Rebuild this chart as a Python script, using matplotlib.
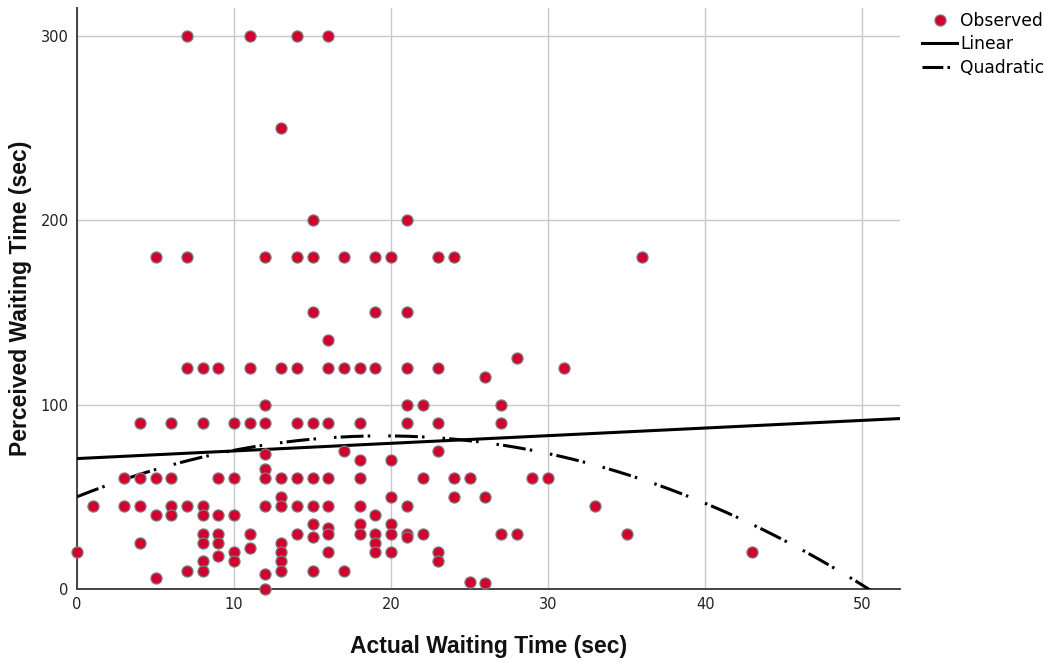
import numpy as np
import matplotlib
matplotlib.use("Agg")
import matplotlib.pyplot as plt
from matplotlib.lines import Line2D
from matplotlib import font_manager

# observed points (actual sec, perceived sec)
actual_wait = [0, 1, 3, 3, 4, 4, 4, 4, 5, 5, 5, 5, 6, 6, 6, 6,
               7, 7, 7, 7, 7, 8, 8, 8, 8, 8, 8, 8, 8,
               9, 9, 9, 9, 9, 9, 10, 10, 10, 10, 10, 11, 11, 11, 11, 11,
               12, 12, 12, 12, 12, 12, 12, 12, 12,
               13, 13, 13, 13, 13, 13, 13, 13, 13,
               14, 14, 14, 14, 14, 14, 14,
               15, 15, 15, 15, 15, 15, 15, 15, 15,
               16, 16, 16, 16, 16, 16, 16, 16, 16,
               17, 17, 17, 17, 18, 18, 18, 18, 18, 18, 18,
               19, 19, 19, 19, 19, 19, 19, 20, 20, 20, 20, 20, 20,
               21, 21, 21, 21, 21, 21, 21, 21, 22, 22, 22,
               23, 23, 23, 23, 23, 23, 24, 24, 24, 25, 25, 26, 26, 26,
               27, 27, 27, 28, 28, 29, 30, 31, 33, 35, 36, 43]
perceived_wait = [20, 45, 60, 45, 90, 60, 45, 25, 180, 60, 40, 6, 90, 60, 45, 40,
                  300, 180, 120, 45, 10, 120, 90, 45, 40, 30, 25, 15, 10,
                  120, 60, 40, 30, 25, 18, 90, 60, 40, 20, 15, 300, 120, 90, 30, 22,
                  180, 100, 90, 73, 65, 60, 45, 8, 0,
                  250, 120, 60, 50, 45, 25, 20, 15, 10,
                  300, 180, 120, 90, 60, 45, 30,
                  200, 180, 150, 90, 60, 45, 35, 28, 10,
                  300, 135, 120, 90, 60, 45, 33, 30, 20,
                  180, 120, 75, 10, 120, 90, 70, 60, 45, 35, 30,
                  180, 150, 120, 40, 30, 25, 20, 180, 70, 50, 35, 30, 20,
                  200, 150, 120, 100, 90, 45, 30, 28, 100, 60, 30,
                  180, 120, 90, 75, 20, 15, 180, 60, 50, 60, 4, 115, 50, 3,
                  100, 90, 30, 125, 30, 60, 60, 120, 45, 30, 180, 20]

# fit coefficients estimated from the drawn curves
linear_coef = [70.7, 0.414]             # a + b*x
quad_coef = [50.0, 3.387, -0.0869]      # a + b*x + c*x^2

x_max = 52.4
y_max = 315

# pick a narrow bold face for the axis titles if one is around
installed = {f.name for f in font_manager.fontManager.ttflist}
narrow = [n for n in ['Liberation Sans Narrow', 'DejaVu Sans Condensed',
                      'Liberation Sans'] if n in installed]
label_family = narrow[:1] + ['DejaVu Sans']

plt.rcParams['lines.scale_dashes'] = False
fig = plt.figure(figsize=(10.49, 6.62), dpi=100)
ax = fig.add_axes([0.0734, 0.1103, 0.7846, 0.8777])

red = '#D1002E'
ax.scatter(actual_wait, perceived_wait, s=64, color=red, edgecolor='#808080',
           linewidth=0.9, zorder=5, clip_on=False)

xs = np.linspace(0, x_max, 300)
ax.plot(xs, linear_coef[0] + linear_coef[1] * xs, color='black', lw=2.2,
        zorder=4, solid_capstyle='butt')
quad_dash = (0, (16.5, 3.0, 1.8, 13.0, 1.8, 3.0))
ax.plot(xs, quad_coef[0] + quad_coef[1] * xs + quad_coef[2] * xs ** 2,
        color='black', lw=2.2, linestyle=quad_dash, zorder=4)

ax.set_xlim(0, x_max)
ax.set_ylim(0, y_max)
ax.set_xticks([0, 10, 20, 30, 40, 50])
ax.set_yticks([0, 100, 200, 300])
ax.grid(True, color='#c8c8c8', lw=1.0)
ax.set_axisbelow(True)
for side in ['top', 'right']:
    ax.spines[side].set_visible(False)
for side in ['left', 'bottom']:
    ax.spines[side].set_color('#444444')
    ax.spines[side].set_linewidth(1.4)
ax.tick_params(length=0, labelsize=10.5, labelcolor='#222222', pad=6)

label_font = dict(family=label_family, fontweight='bold', fontsize=16.5,
                  color='#111111')
ax.set_xlabel('Actual Waiting Time (sec)', labelpad=16, **label_font)
ax.set_ylabel('Perceived Waiting Time (sec)', labelpad=6, **label_font)

handles = [
    Line2D([], [], linestyle='none', marker='o', markersize=8,
           markerfacecolor=red, markeredgecolor='#808080', markeredgewidth=0.9),
    Line2D([], [], color='black', lw=2.2),
    Line2D([], [], color='black', lw=2.2, linestyle=(0, (15.0, 3.0, 1.8, 30.0))),
]
fig.legend(handles, ['Observed', 'Linear', 'Quadratic'], loc='upper left',
           bbox_to_anchor=(0.868, 1.0), frameon=False, fontsize=12.3,
           handlelength=2.0, handletextpad=0.2, labelspacing=0.32,
           borderaxespad=0.3)

fig.savefig('out.png', dpi=100)
